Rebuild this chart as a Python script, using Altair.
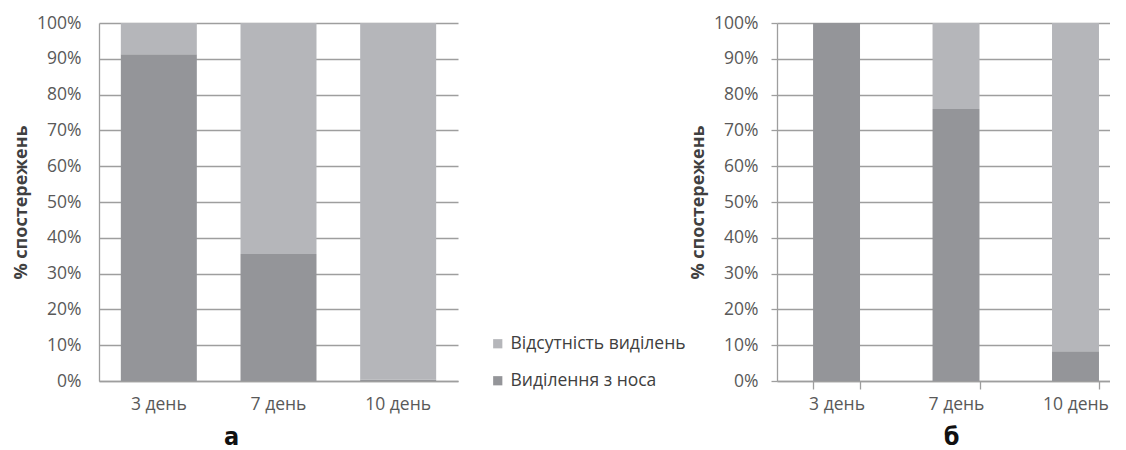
import altair as alt
import pandas as pd

days = ["3 день", "7 день", "10 день"]
series = ["Відсутність виділень", "Виділення з носа"]
series_colors = ["#b5b6ba", "#949599"]

# panel "а"
a_discharge = [0.913, 0.355, 0.004]
a_none = [0.087, 0.645, 0.996]
# panel "б"
b_discharge = [1.0, 0.76, 0.083]
b_none = [0.0, 0.24, 0.917]

y_ticks = [0.0, 0.1, 0.2, 0.3, 0.4, 0.5, 0.6, 0.7, 0.8, 0.9, 1.0]

GRID = "#9e9e9e"
FONT = "Open Sans"
LETTER_FONT = "'Liberation Sans Narrow', 'DejaVu Sans Condensed', 'Roboto Condensed', sans-serif"


def frame(discharge, none):
    rows = []
    for d, v1, v2 in zip(days, discharge, none):
        rows.append({"day": d, "series": series[1], "value": v1, "ord": 0})
        rows.append({"day": d, "series": series[0], "value": v2, "ord": 1})
    return pd.DataFrame(rows)


color = alt.Color(
    "series:N",
    scale=alt.Scale(domain=series, range=series_colors),
    legend=alt.Legend(
        title=None, orient="none", legendX=390, legendY=312,
        symbolType="square", symbolSize=85, symbolStrokeWidth=0,
        labelFont=FONT, labelFontSize=17.5, labelColor="#404040", labelLimit=400,
        labelOffset=4, rowPadding=18, padding=0,
    ),
)


def y_axis(ticks, label_pad):
    return alt.Axis(
        values=y_ticks, format=".0%", title="% спостережень",
        titleFont=FONT, titleFontSize=18, titleFontWeight="bold", titleColor="#404040",
        titlePadding=6,
        labelFont=FONT, labelFontSize=17.5, labelColor="#595959", labelPadding=label_pad,
        ticks=ticks, tickSize=6, tickColor=GRID, tickWidth=1.3,
        grid=True, gridColor=GRID, gridWidth=1.3,
        domainColor=GRID, domainWidth=1.3,
    )


def panel(df, x_scale, x_axis, yax, width):
    return alt.Chart(df).mark_bar().encode(
        x=alt.X("day:N", sort=days, scale=x_scale, axis=x_axis),
        y=alt.Y("value:Q", stack="zero", scale=alt.Scale(domain=[0, 1], nice=False), axis=yax),
        color=color,
        order=alt.Order("ord:Q"),
    ).properties(width=width, height=358)


x_common = dict(
    labelAngle=0, labelFont=FONT, labelFontSize=17.5, labelColor="#595959",
    domainColor=GRID, domainWidth=1.3,
    titleFont=LETTER_FONT, titleFontSize=25, titleFontWeight="bold",
    titleColor="#111111", titleAlign="center", titleBaseline="alphabetic",
)

left = panel(
    frame(a_discharge, a_none),
    alt.Scale(paddingInner=0.365, paddingOuter=0.1825),
    alt.Axis(title="а", titleX=132, titleY=63, ticks=False, labelPadding=14, **x_common),
    y_axis(False, 18),
    359,
)

right = panel(
    frame(b_discharge, b_none),
    alt.Scale(paddingInner=0.607, paddingOuter=0.197, align=0.766),
    alt.Axis(title="б", titleX=174, titleY=63, ticks=True, tickBand="extent", tickSize=8,
             tickColor=GRID, tickWidth=1.3, labelPadding=6, **x_common),
    y_axis(True, 13),
    333,
)

chart = alt.hconcat(left, right, spacing=231).properties(
    padding={"left": 4, "top": 6, "right": 0, "bottom": 0},
    background="white",
).configure_view(stroke=None)

chart.save("out.html", embed_options={"renderer": "svg", "actions": False})
